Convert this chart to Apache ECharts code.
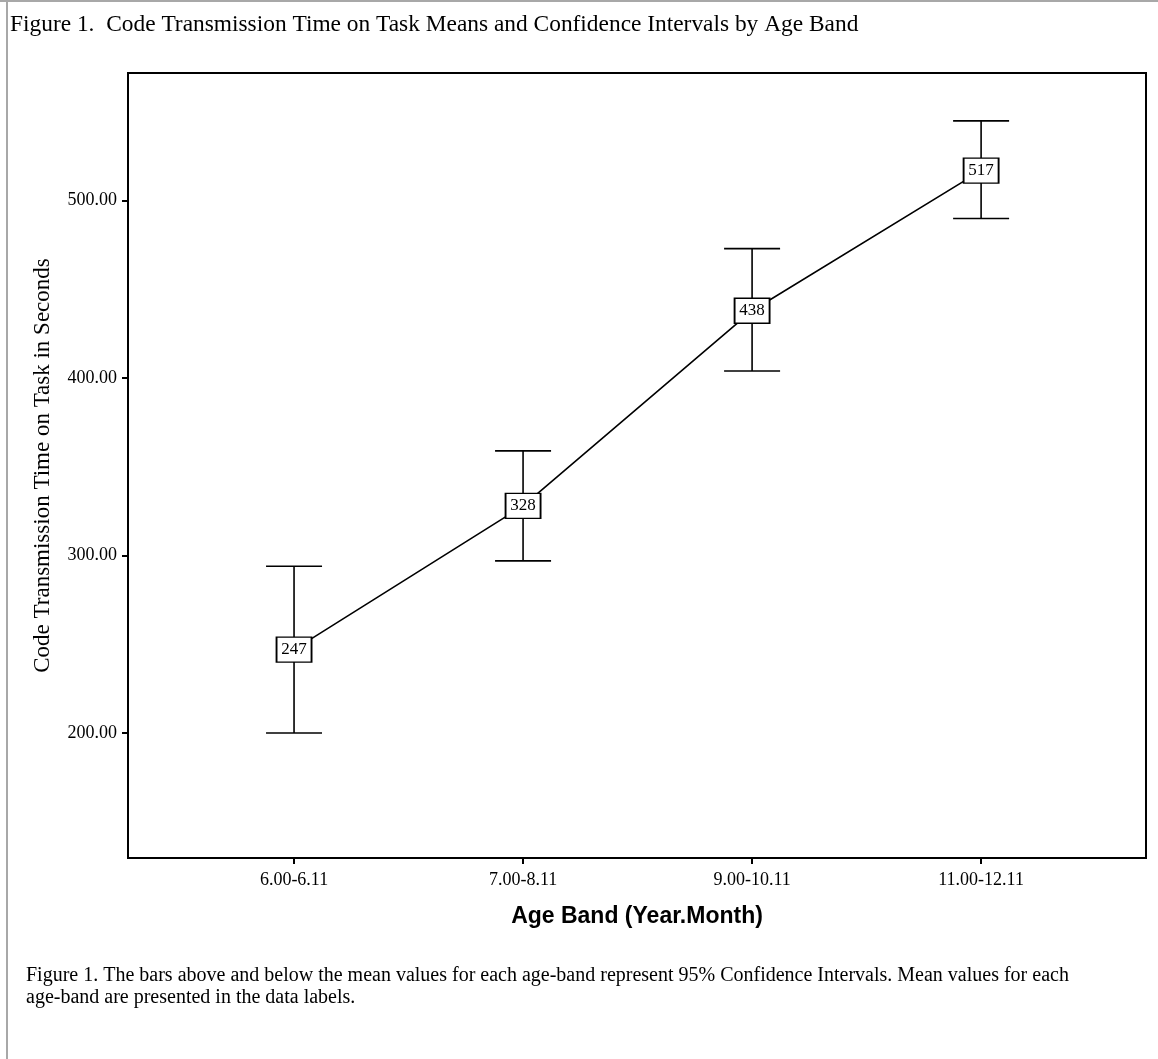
<!DOCTYPE html>
<html>
<head>
<meta charset="utf-8">
<script src="https://cdn.jsdelivr.net/npm/echarts@6/dist/echarts.min.js"></script>
<style>
html,body{margin:0;padding:0;background:#fff;}
#chart{width:1158px;height:1059px;}
</style>
</head>
<body>
<div id="chart"></div>
<script>
var categories = ['6.00-6.11', '7.00-8.11', '9.00-10.11', '11.00-12.11'];
var means = [247, 328, 438, 517];
var lowerCI = [200, 297, 404, 490];
var upperCI = [294, 359, 473, 545];
var yTicks = [200, 300, 400, 500];

var xPos = categories.map(function (c, i) { return i + 1; });
var serif = '"Liberation Serif", "Times New Roman", serif';
var sans = '"Liberation Sans", Arial, sans-serif';

var chart = echarts.init(document.getElementById('chart'), null, {renderer: 'canvas'});
var option = {
  backgroundColor: '#ffffff',
  animation: false,
  grid: {left: 128, top: 73, width: 1018, height: 785, show: true, borderColor: '#000', borderWidth: 2, backgroundColor: 'transparent'},
  xAxis: {
    type: 'value', min: 0.275, max: 4.72,
    splitLine: {show: false},
    axisLine: {show: true, lineStyle: {color: '#000', width: 2}},
    axisTick: {show: true, length: 6, lineStyle: {color: '#000', width: 2}, customValues: xPos},
    axisLabel: {
      customValues: xPos, margin: 13, color: '#000', fontFamily: serif, fontSize: 18,
      formatter: function (v) { return categories[Math.round(v) - 1] || ''; }
    },
    name: 'Age Band (Year.Month)', nameLocation: 'middle', nameGap: 47,
    nameTextStyle: {fontFamily: sans, fontWeight: 'bold', fontSize: 23, color: '#000'}
  },
  yAxis: {
    type: 'value', min: 129.5, max: 572,
    splitLine: {show: false},
    axisLine: {show: true, lineStyle: {color: '#000', width: 2}},
    axisTick: {show: true, length: 6, lineStyle: {color: '#000', width: 2}, customValues: yTicks},
    axisLabel: {
      customValues: yTicks, margin: 11, color: '#000', fontFamily: serif, fontSize: 18,
      formatter: function (v) { return v.toFixed(2); }
    },
    name: 'Code Transmission Time on Task in Seconds', nameLocation: 'middle', nameGap: 74,
    nameTextStyle: {fontFamily: serif, fontSize: 23, color: '#000'}
  },
  graphic: [
    {type: 'line', shape: {x1: 0, y1: 1, x2: 1158, y2: 1}, style: {stroke: '#a8a8a8', lineWidth: 2}},
    {type: 'line', shape: {x1: 7, y1: 0, x2: 7, y2: 1059}, style: {stroke: '#a8a8a8', lineWidth: 2}},
    {type: 'text', left: 10, top: 13, style: {text: 'Figure 1.  Code Transmission Time on Task Means and Confidence Intervals by Age Band', font: '23.4px ' + serif, fill: '#000'}},
    {type: 'text', left: 26, top: 965, style: {text: 'Figure 1. The bars above and below the mean values for each age-band represent 95% Confidence Intervals. Mean values for each\nage-band are presented in the data labels.', font: '20px ' + serif, fill: '#000', lineHeight: 22}}
  ],
  series: [
    {
      type: 'custom',
      data: xPos.map(function (x, i) { return [x, lowerCI[i], upperCI[i]]; }),
      renderItem: function (params, api) {
        var x = api.value(0);
        var lo = api.coord([x, api.value(1)]);
        var hi = api.coord([x, api.value(2)]);
        var hw = 28;
        var st = {stroke: '#000', lineWidth: 1.6};
        return {type: 'group', children: [
          {type: 'line', shape: {x1: lo[0], y1: lo[1], x2: hi[0], y2: hi[1]}, style: st},
          {type: 'line', shape: {x1: lo[0] - hw, y1: lo[1], x2: lo[0] + hw, y2: lo[1]}, style: st},
          {type: 'line', shape: {x1: hi[0] - hw, y1: hi[1], x2: hi[0] + hw, y2: hi[1]}, style: st}
        ]};
      },
      z: 2
    },
    {
      type: 'line',
      data: xPos.map(function (x, i) { return [x, means[i]]; }),
      symbol: 'none',
      lineStyle: {color: '#000', width: 1.6},
      z: 3
    },
    {
      type: 'scatter',
      data: xPos.map(function (x, i) { return [x, means[i]]; }),
      symbol: 'rect', symbolSize: [35, 25],
      itemStyle: {color: '#fff', borderColor: '#000', borderWidth: 1.6, opacity: 1},
      label: {show: true, position: 'inside', color: '#000', fontFamily: serif, fontSize: 17,
        formatter: function (p) { return String(p.value[1]); }},
      z: 4
    }
  ]
};
chart.setOption(option);
</script>
</body>
</html>
